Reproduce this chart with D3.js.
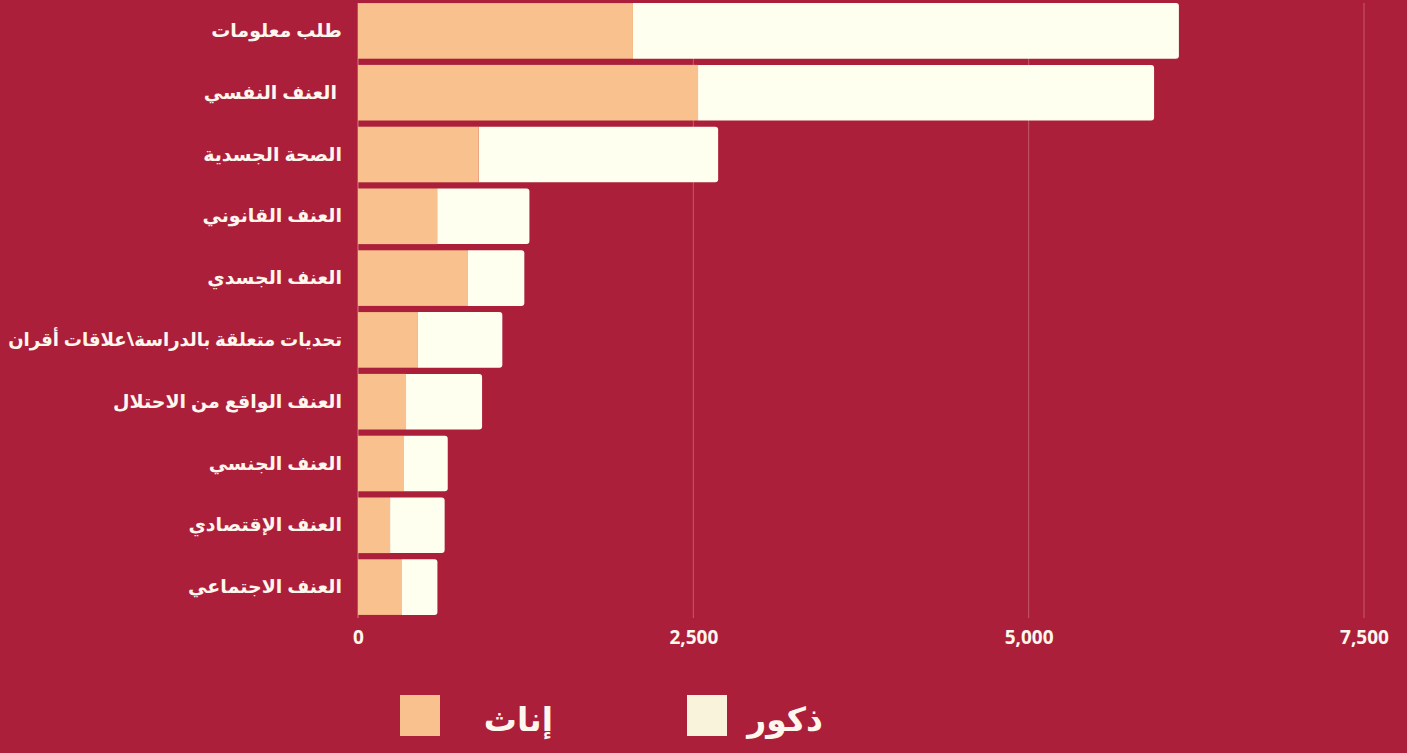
<!DOCTYPE html>
<html><head><meta charset="utf-8">
<script src="https://cdn.jsdelivr.net/npm/d3@7"></script>
<style>
html,body{margin:0;padding:0;background:#AB1F3A;}
svg{display:block;}
text{font-family:"Noto Sans","DejaVu Sans",sans-serif;}
</style></head>
<body><svg id="chart" width="1407" height="753"></svg>
<script>
const categories = ["طلب معلومات","العنف النفسي ","الصحة الجسدية","العنف القانوني","العنف الجسدي","تحديات متعلقة بالدراسة\\علاقات أقران","العنف الواقع من الاحتلال","العنف الجنسي","العنف الإقتصادي","العنف الاجتماعي"];
const females = [2050, 2535, 900, 590, 820, 447, 358, 343, 239, 328];
const males   = [4070, 3400, 1785, 688, 420, 629, 567, 326, 407, 264];
const xTicks = [0, 2500, 5000, 7500];
const seriesNames = ["إناث","ذكور"];

(function(){
const cFem = "#F8C18E", cMal = "#FFFFF0", cMalLegend = "#FAF3DC", txt = "#FFF6EE";
const svg = d3.select("#chart");
const mLeft = 358, mRight = 1364, mTop = 0, mBottom = 618;

const x = d3.scaleLinear().domain([0, 7500]).range([mLeft, mRight]);
const y = d3.scaleBand().domain(categories).range([mTop, mBottom]).paddingInner(0.1).paddingOuter(0.05);

// gridlines
svg.append("g").selectAll("line").data(xTicks).join("line")
  .attr("x1", d => x(d)).attr("x2", d => x(d))
  .attr("y1", 3).attr("y2", 618)
  .attr("stroke", d => d === 0 ? "#D77A8C" : "#C45A6E").attr("stroke-width", 1);

// x axis labels
const xAxis = d3.axisBottom(x).tickValues(xTicks).tickSize(0).tickPadding(0).tickFormat(d3.format(","));
const gx = svg.append("g").attr("transform", `translate(0,${mBottom})`).call(xAxis);
gx.select(".domain").remove();
gx.selectAll("text").attr("dy", "26px").attr("fill", txt)
  .style("font-size", "19px").style("font-weight", "700").style("font-family", "'Open Sans', 'Noto Sans', sans-serif");

// y axis labels
const yAxis = d3.axisLeft(y).tickSize(0).tickPadding(16);
const gy = svg.append("g").attr("transform", `translate(${mLeft},0)`).call(yAxis);
gy.select(".domain").remove();
const maxW = 334;
gy.selectAll("text").attr("fill", txt).style("font-size", "19px").style("font-weight", "700")
  .attr("direction", "rtl").attr("text-anchor", "start")
  .each(function(d){
    const t = d3.select(this);
    const w = this.getComputedTextLength();
    if (d.endsWith(" ")) t.attr("x", -21);
    if (w > maxW) {
      const k = maxW / w;
      t.attr("transform", `translate(-16,0) scale(${k},1) translate(16,0)`);
    }
  });

const rows = categories.map((c, i) => ({c, f: females[i], m: males[i]}));
const r = 3;
svg.append("g").selectAll("path").data(rows).join("path")
  .attr("fill", cMal)
  .attr("d", d => {
    const x0 = x(d.f), x1 = x(d.f + d.m), y0 = y(d.c), h = y.bandwidth();
    return `M${x0},${y0}H${x1 - r}Q${x1},${y0} ${x1},${y0 + r}V${y0 + h - r}Q${x1},${y0 + h} ${x1 - r},${y0 + h}H${x0}Z`;
  });
svg.append("g").selectAll("rect").data(rows).join("rect")
  .attr("x", x(0)).attr("y", d => y(d.c))
  .attr("width", d => x(d.f) - x(0)).attr("height", y.bandwidth())
  .attr("fill", cFem);

// legend
const legend = [
  {name: seriesNames[0], color: cFem, sx: 400, tx: 553},
  {name: seriesNames[1], color: cMalLegend, sx: 687, tx: 823}
];
const lg = svg.append("g").selectAll("g").data(legend).join("g");
lg.append("rect").attr("x", d => d.sx).attr("y", 695).attr("width", 40).attr("height", 41).attr("fill", d => d.color);
lg.append("text").attr("x", d => d.tx).attr("y", 731)
  .attr("direction", "rtl").attr("text-anchor", "start").attr("fill", txt)
  .style("font-size", "33px").style("font-weight", "700").text(d => d.name);
})();
</script></body></html>
